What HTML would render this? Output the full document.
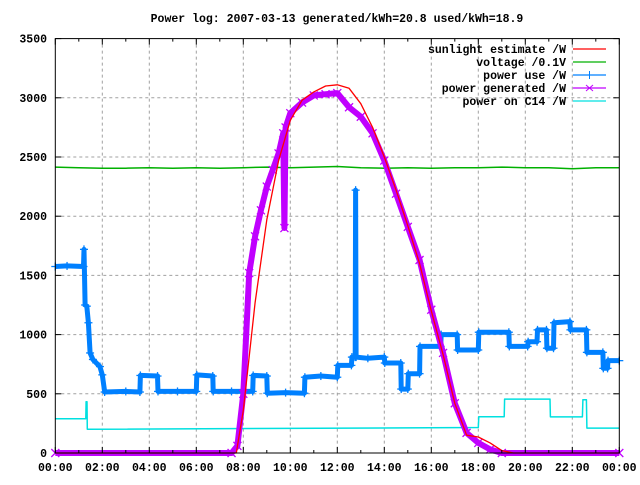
<!DOCTYPE html>
<html><head><meta charset="utf-8"><style>
body{margin:0;background:#fff;width:640px;height:480px;overflow:hidden}
text{font-family:"Liberation Mono","DejaVu Sans Mono",monospace;font-size:11.5px;font-weight:bold;fill:#000}
</style></head><body>
<svg id="chart" width="640" height="480" xmlns="http://www.w3.org/2000/svg">
<text x="337" y="22" text-anchor="middle">Power log: 2007-03-13 generated/kWh=20.8 used/kWh=18.9</text>
<g id="grid"></g><g id="series"></g><g id="axes"></g><g id="legend"></g>
</svg>
<script>
const xTickLabels=["00:00","02:00","04:00","06:00","08:00","10:00","12:00","14:00","16:00","18:00","20:00","22:00","00:00"];
const yTickLabels=[0,500,1000,1500,2000,2500,3000,3500];
const sunT=[0,7.7,8,8.5,9,9.5,10,10.5,11,11.5,12,12.5,13,13.5,14,14.5,15,15.5,16,16.5,17,17.5,18,18.5,19,19.5,24];
const sunV=[0,0,360,1270,1970,2470,2810,2980,3050,3100,3110,3080,2950,2750,2500,2220,1920,1600,1200,830,420,150,135,85,20,0,0];
const voltT=[0,1,2,3,4,5,6,7,8,9,10,11,12,13,14,15,16,17,18,19,20,21,22,23,24];
const voltV=[2415,2410,2405,2405,2410,2405,2410,2405,2410,2415,2410,2415,2420,2410,2405,2410,2405,2410,2410,2415,2410,2410,2400,2410,2410];
const useT=[0,0.5,1.2,1.22,1.27,1.34,1.41,1.48,1.6,1.9,2.0,2.1,3.0,3.6,3.62,4.35,4.37,5.2,6.0,6.02,6.7,6.72,7.5,8.4,8.42,9.0,9.02,9.8,10.6,10.62,11.3,12.0,12.02,12.6,12.62,12.76,12.78,12.8,13.3,14.0,14.02,14.7,14.72,15.0,15.02,15.5,15.52,16.4,16.42,17.1,17.12,18.0,18.02,19.3,19.32,20.1,20.12,20.5,20.52,20.9,20.92,21.2,21.22,21.9,21.92,22.6,22.62,23.3,23.32,23.5,23.52,24];
const useV=[1575,1580,1575,1720,1250,1240,1100,845,790,730,660,515,520,515,655,650,520,520,520,660,650,520,520,520,655,650,505,510,505,640,650,640,740,740,810,810,2220,810,800,810,760,760,540,540,670,670,900,900,1000,1000,870,870,1020,1020,900,900,940,940,1040,1040,885,885,1100,1110,1040,1040,850,850,715,715,780,780];
const genT=[0,7.5,7.75,8,8.25,8.5,8.75,9,9.25,9.5,9.7,9.75,9.8,10,10.5,11,11.5,12,12.5,13,13.5,14,14.5,15,15.5,16,16.5,17,17.5,18,18.5,19,24];
const genV=[0,0,60,500,1520,1830,2050,2250,2390,2530,2700,1900,2750,2870,2960,3020,3030,3040,2920,2840,2700,2470,2190,1910,1630,1210,845,420,170,85,30,0,0];
const c14T=[0,1.3,1.31,1.35,1.36,18.0,18.02,19.1,19.12,21.05,21.07,22.43,22.45,22.6,22.62,24];
const c14V=[290,290,433,433,200,215,307,307,455,455,305,305,450,450,210,210];

const NS="http://www.w3.org/2000/svg";
const L=55.3,R=619.3,T=38.6,B=453;
const xs=h=>L+(R-L)*h/24;
const ys=v=>B-(B-T)*v/3500;
function mk(tag,attrs,parent){const e=document.createElementNS(NS,tag);for(const k in attrs)e.setAttribute(k,attrs[k]);parent.appendChild(e);return e;}
const grid=document.getElementById('grid'),axes=document.getElementById('axes'),ser=document.getElementById('series'),leg=document.getElementById('legend');
xTickLabels.forEach((lab,i)=>{const x=xs(i*2);
 if(i>0&&i<12){const g=mk('line',{x1:x,x2:x,y1:T,y2:B,stroke:'#a0a0a0','stroke-dasharray':'3,3'},grid);
 
 }
 const t=mk('text',{x:x,y:471,'text-anchor':'middle'},axes);t.textContent=lab;
 
 });
for(let h=0;h<=24;h++){const x=xs(h),len=h%2?3:6;
 mk('line',{x1:x,x2:x,y1:B,y2:B-len,stroke:'#000'},axes);mk('line',{x1:x,x2:x,y1:T,y2:T+len,stroke:'#000'},axes);}
yTickLabels.forEach(v=>{const y=ys(v);
 if(v>0&&v<3500){const g=mk('line',{x1:L,x2:R,y1:y,y2:y,stroke:'#a0a0a0','stroke-dasharray':'3,3'},grid);
 
 }
 mk('line',{x1:L,x2:L+6,y1:y,y2:y,stroke:'#000'},axes);mk('line',{x1:R,x2:R-6,y1:y,y2:y,stroke:'#000'},axes);
 const t=mk('text',{x:47,y:y+4,'text-anchor':'end'},axes);t.textContent=v;
 
 });
const frame=mk('rect',{x:L,y:T,width:R-L,height:B-T,fill:'none',stroke:'#000'},axes);


function line(tA,vA,color,w,name){const d=tA.map((t,i)=>(i?'L':'M')+xs(t).toFixed(1)+','+ys(vA[i]).toFixed(1)).join('');
 const p=mk('path',{d:d,fill:'none',stroke:color,'stroke-width':w,'stroke-linejoin':'round'},ser);
 
 return p;}
function markers(tA,vA,color,type,name){const g=mk('g',{stroke:color,'stroke-width':1.3},ser);
 
 
 tA.forEach((t,i)=>{const x=xs(t),y=ys(vA[i]),s=4;
 if(type==='+'){mk('line',{x1:x-s,x2:x+s,y1:y,y2:y},g);mk('line',{x1:x,x2:x,y1:y-s,y2:y+s},g);}
 else{mk('line',{x1:x-s,x2:x+s,y1:y-s,y2:y+s},g);mk('line',{x1:x-s,x2:x+s,y1:y+s,y2:y-s},g);}});}
line(c14T,c14V,'#00e0e0',1.5,'c14-power-line');
line(voltT,voltV,'#00b000',1.5,'voltage-line');
line(useT,useV,'#0080ff',5,'power-use-line');
markers(useT,useV,'#0080ff','+','power-use-markers');
line(genT,genV,'#c000ff',6,'power-generated-line');
markers(genT,genV,'#c000ff','x','power-generated-markers');
line(sunT,sunV,'#ff0000',1.3,'sunlight-estimate-line');
const legendNames=["sunlight estimate /W","voltage /0.1V","power use /W","power generated /W","power on C14 /W"];
const legendColors=['#ff0000','#00b000','#0080ff','#c000ff','#00e0e0'];
legendNames.forEach((n,i)=>{const y=49+i*13;
 const t=mk('text',{x:566,y:y+4,'text-anchor':'end'},leg);t.textContent=n;
 
 
 mk('line',{x1:573,x2:606,y1:y,y2:y,stroke:legendColors[i],'stroke-width':1.3},leg);
 if(i===2){mk('line',{x1:589.5,x2:589.5,y1:y-4,y2:y+4,stroke:legendColors[i]},leg);}
 if(i===3){mk('line',{x1:586,x2:593,y1:y-3,y2:y+3,stroke:legendColors[i]},leg);mk('line',{x1:586,x2:593,y1:y+3,y2:y-3,stroke:legendColors[i]},leg);}
});
</script>
</body></html>
